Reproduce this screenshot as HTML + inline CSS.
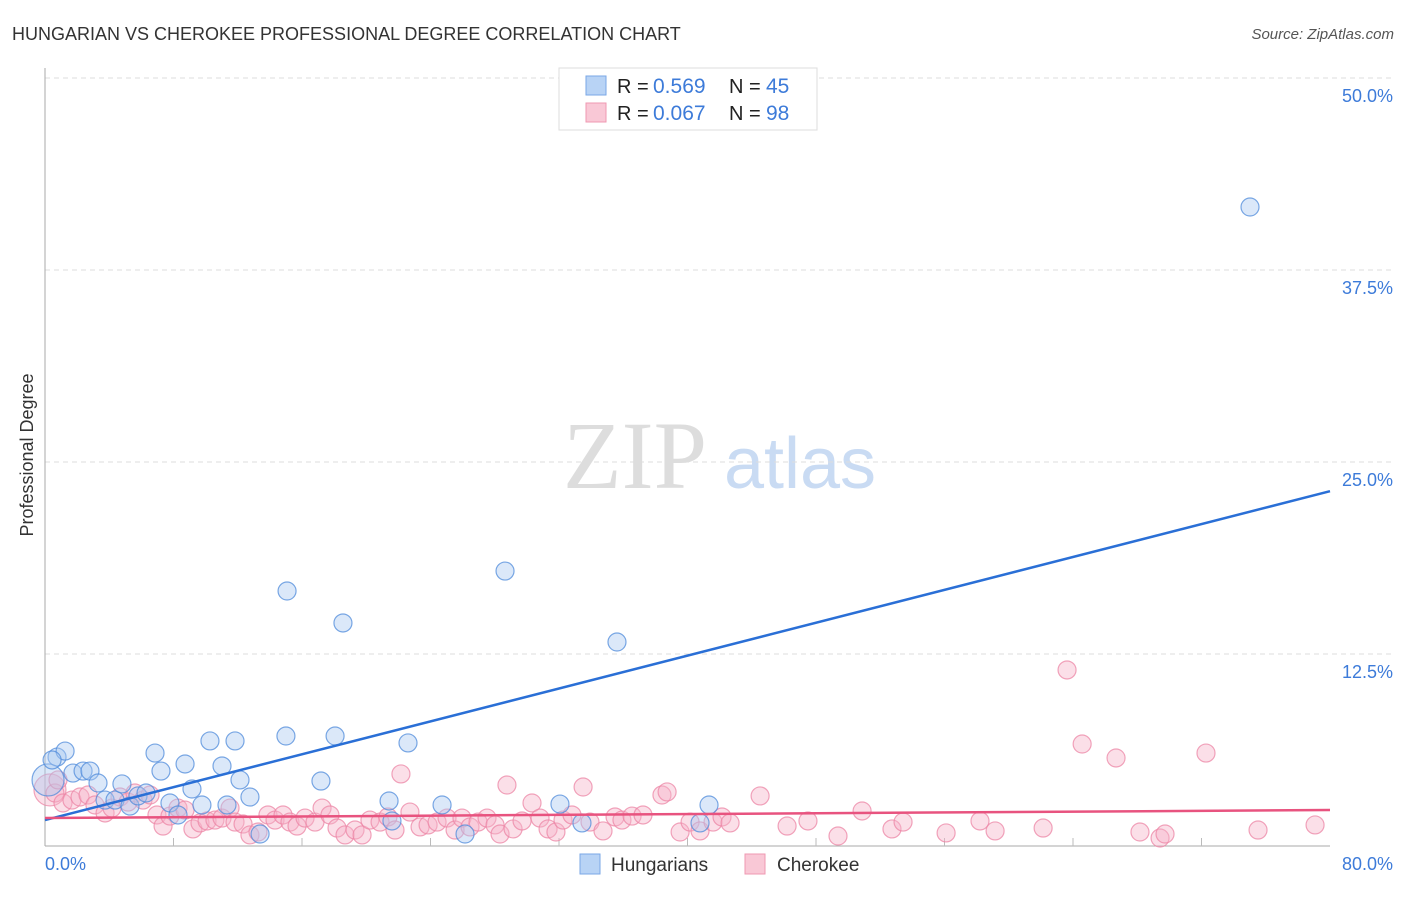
<!DOCTYPE html>
<html><head><meta charset="utf-8"><style>
body{margin:0;background:#fff;font-family:"Liberation Sans",sans-serif}
</style></head><body>
<svg width="1406" height="892" viewBox="0 0 1406 892" id="chart" xmlns="http://www.w3.org/2000/svg">
<text x="12" y="40" font-size="18" fill="#333">HUNGARIAN VS CHEROKEE PROFESSIONAL DEGREE CORRELATION CHART</text>
<text x="1394" y="39" font-size="15" fill="#555" font-style="italic" text-anchor="end">Source: ZipAtlas.com</text>
<text transform="translate(33,455) rotate(-90)" font-size="18" fill="#333" text-anchor="middle">Professional Degree</text>
<g>
<text x="635" y="488" font-size="96" font-family="Liberation Serif,serif" fill="#ddd" text-anchor="middle">ZIP</text>
<text x="800" y="488" font-size="72" fill="#c9dbf3" text-anchor="middle">atlas</text>
</g>
<g id="grid"></g><g id="pts"></g><g id="lines"></g>
<g>
<rect x="559" y="68" width="258" height="62" fill="#fff" stroke="#ddd"/>
<rect x="586" y="76" width="20" height="19" fill="#b8d3f5" stroke="#7aa7e6"/>
<rect x="586" y="103" width="20" height="19" fill="#f9c8d6" stroke="#ef98b2"/>
<text x="617" y="93" font-size="20" fill="#222">R =</text>
<text x="653" y="93" font-size="21" fill="#3d7bd9">0.569</text>
<text x="729" y="93" font-size="20" fill="#222">N =</text>
<text x="766" y="93" font-size="21" fill="#3d7bd9">45</text>
<text x="617" y="120" font-size="20" fill="#222">R =</text>
<text x="653" y="120" font-size="21" fill="#3d7bd9">0.067</text>
<text x="729" y="120" font-size="20" fill="#222">N =</text>
<text x="766" y="120" font-size="21" fill="#3d7bd9">98</text>
</g>
<g>
<rect x="580" y="854" width="20" height="20" fill="#b8d3f5" stroke="#7aa7e6"/>
<text x="611" y="871" font-size="19" fill="#333">Hungarians</text>
<rect x="745" y="854" width="20" height="20" fill="#f9c8d6" stroke="#ef98b2"/>
<text x="777" y="871" font-size="19" fill="#333">Cherokee</text>
</g>
</svg>
<script>
const yTicks=[12.5,25,37.5,50];
const yTickLabels=["12.5%","25.0%","37.5%","50.0%"];
const xTickLabels=["0.0%","80.0%"];
const hunX=[0.75,1.25,1.74,2.37,2.80,3.30,3.74,4.36,4.79,5.29,5.79,6.29,6.85,7.22,7.78,8.28,8.72,9.15,9.77,10.27,11.02,11.33,11.83,12.14,12.76,13.39,15.00,15.07,17.18,18.06,18.55,21.42,21.60,22.60,24.72,26.15,28.64,32.06,33.43,35.61,40.78,41.34,75.02,0.19,0.44];
const hunY=[5.79,6.18,4.75,4.88,4.88,4.10,2.99,2.99,4.04,2.60,3.26,3.45,6.05,4.88,2.80,2.02,5.34,3.71,2.67,6.84,5.21,2.67,6.84,4.30,3.19,0.78,7.16,16.60,4.23,7.16,14.52,2.93,1.63,6.71,2.67,0.78,17.90,2.73,1.50,13.28,1.50,2.67,41.60,4.30,5.60];
const cheX=[0.31,0.62,1.12,1.68,2.18,2.68,3.11,3.74,4.17,4.67,5.17,5.60,6.10,6.54,6.97,7.35,7.78,8.28,8.72,9.21,9.65,10.09,10.58,11.02,11.52,11.83,12.33,12.76,13.26,13.88,14.32,14.82,15.25,15.69,16.19,16.81,17.25,17.74,18.18,18.68,19.30,19.74,20.23,20.86,21.35,21.79,22.16,22.72,23.35,23.85,24.41,25.03,25.53,25.96,26.46,26.96,27.52,28.02,28.33,28.76,29.14,29.70,30.32,30.82,31.32,31.81,32.25,32.81,33.50,33.93,34.74,35.49,35.92,36.55,37.23,38.41,38.73,39.54,40.16,40.78,41.59,42.15,42.65,44.52,46.20,47.50,49.37,50.87,52.73,53.42,56.10,58.21,59.15,62.14,63.63,64.57,66.68,68.17,69.42,69.73,72.28,75.52,79.07,0.81];
const cheY=[3.65,3.45,2.80,2.99,3.19,3.32,2.67,2.15,2.47,3.19,2.86,3.45,2.99,3.32,2.02,1.30,1.95,2.47,2.34,1.11,1.50,1.63,1.69,1.82,2.47,1.56,1.43,0.72,0.91,2.02,1.69,2.02,1.56,1.30,1.82,1.56,2.47,2.02,1.17,0.72,1.04,0.72,1.69,1.56,1.89,1.04,4.69,2.21,1.24,1.37,1.56,1.82,1.04,1.82,1.24,1.56,1.82,1.37,0.78,3.97,1.11,1.63,2.80,1.82,1.11,0.91,1.69,2.02,3.84,1.56,0.98,1.89,1.69,1.95,2.02,3.32,3.52,0.91,1.56,0.98,1.56,1.89,1.50,3.26,1.30,1.63,0.65,2.28,1.11,1.56,0.85,1.63,0.98,1.17,11.46,6.64,5.73,0.91,0.52,0.78,6.05,1.04,1.37,4.30];
const hunTrend=[1.69,23.1];
const cheTrend=[1.82,2.34];
const NS="http://www.w3.org/2000/svg";
const X0=45,X1=1330,Y0=846,PXPER=192/12.5;
const sx=v=>X0+(v/80)*(X1-X0);
const sy=v=>Y0-v*PXPER;
function mk(tag,attrs,parent){const e=document.createElementNS(NS,tag);for(const k in attrs)e.setAttribute(k,attrs[k]);parent.appendChild(e);return e;}
const grid=document.getElementById('grid'),pts=document.getElementById('pts'),lines=document.getElementById('lines');
yTicks.forEach((t,i)=>{
 const l=mk('line',{x1:X0,x2:1395,y1:sy(t),y2:sy(t),stroke:'#ddd','stroke-dasharray':'5,4'},grid);
 
 
 const tx=mk('text',{x:1393,y:sy(t)+24,'font-size':18,fill:'#3d7bd9','text-anchor':'end'},grid);
 tx.textContent=yTickLabels[i];
 
 
});
const ax=mk('line',{x1:X0,x2:X0,y1:68,y2:Y0,stroke:'#aaa'},grid);


const bx=mk('line',{x1:X0,x2:X1,y1:Y0,y2:Y0,stroke:'#aaa'},grid);


for(let i=1;i<10;i++){const t=mk('line',{x1:sx(i*8),x2:sx(i*8),y1:Y0-8,y2:Y0,stroke:'#bbb'},grid);
 
 }
[[0,'start',X0],[1,'end',1393]].forEach(([i,a,x])=>{const t=mk('text',{x:x,y:870,'font-size':18,fill:'#3d7bd9','text-anchor':a},grid);t.textContent=xTickLabels[i];
 
 });
function dots(xs,ys,fill,stroke,name){xs.forEach((x,i)=>{const r=(x<0.35)?16:9;
 const c=mk('circle',{cx:sx(x),cy:sy(ys[i]),r:r,fill:fill,'fill-opacity':0.42,stroke:stroke,'stroke-opacity':0.75,'stroke-width':1.2},pts);
 
 });}
dots(cheX,cheY,'#f5b3c7','#ec85a5','cherokee-point');
dots(hunX,hunY,'#a9c9f0','#4f8bdb','hungarian-point');
const l1=mk('line',{x1:sx(0),y1:sy(hunTrend[0]),x2:sx(80),y2:sy(hunTrend[1]),stroke:'#2a6fd6','stroke-width':2.5},lines);


const l2=mk('line',{x1:sx(0),y1:sy(cheTrend[0]),x2:sx(80),y2:sy(cheTrend[1]),stroke:'#e8537f','stroke-width':2.5},lines);


</script>
</body></html>
